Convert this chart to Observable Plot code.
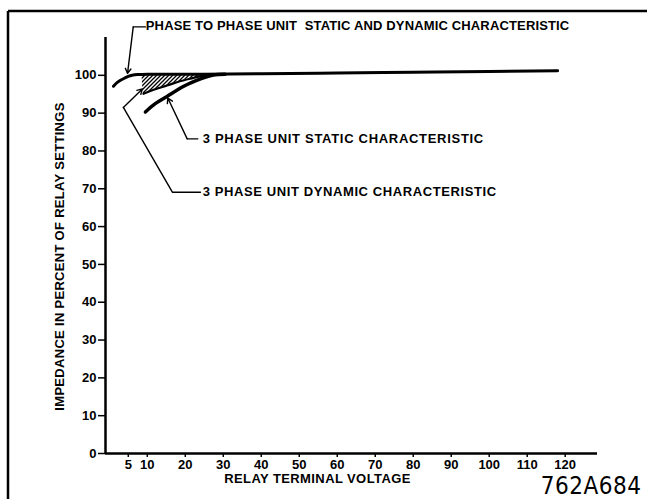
<!DOCTYPE html>
<html>
<head>
<meta charset="utf-8">
<script src="https://cdn.jsdelivr.net/npm/d3@7"></script>
<script src="https://cdn.jsdelivr.net/npm/@observablehq/plot@0.6"></script>
<style>
  html, body { margin: 0; padding: 0; background: #fff; }
  #chart { width: 647px; height: 499px; overflow: hidden; }
</style>
</head>
<body>
<div id="chart"></div>
<script>
// ---- data ----
const xTicks = [5, 10, 20, 30, 40, 50, 60, 70, 80, 90, 100, 110, 120];
const yTicks = [0, 10, 20, 30, 40, 50, 60, 70, 80, 90, 100];

// Phase to phase unit static and dynamic characteristic
const ptpVolt = [1.1, 2.2, 3.7, 5, 6, 7.5, 10, 15, 25, 40, 60, 80, 100, 118];
const ptpImp  = [97.1, 98.2, 99.1, 99.7, 100.0, 100.2, 100.3, 100.3, 100.3, 100.4, 100.6, 100.8, 101.0, 101.2];

// 3 phase unit static characteristic
const staticVolt = [9.5, 12.1, 15.2, 19.6, 24.2, 27.4, 30.5];
const staticImp  = [90.3, 92.5, 94.4, 97.1, 99.1, 100.1, 100.3];

// 3 phase unit dynamic characteristic (lower edge of hatched zone)
const dynVolt = [9.0, 12.1, 15.2, 18.2, 21.3, 24.0, 26.6];
const dynImp  = [95.1, 96.3, 97.3, 98.3, 99.1, 99.7, 100.1];

// hatched zone between dynamic curve and the 100 % line
const hatchVolt = [8.6, 9.0, 12.1, 15.2, 18.2, 21.3, 24.0, 26.6];
const hatchLow  = [100.2, 95.1, 96.3, 97.3, 98.3, 99.1, 99.7, 100.1];
const hatchHigh = [100.3, 100.3, 100.3, 100.3, 100.3, 100.3, 100.3, 100.3];

// labels and their leader lines (data coordinates)
const labelTexts = [
  "PHASE TO PHASE UNIT  STATIC AND DYNAMIC CHARACTERISTIC",
  "3 PHASE UNIT STATIC CHARACTERISTIC",
  "3 PHASE UNIT DYNAMIC CHARACTERISTIC"
];
const labelVolt = [9.6, 24.6, 24.6];
const labelImp  = [113.2, 83.2, 69.1];

const leader1Volt = [9.5, 6.3];   const leader1Imp = [112.8, 112.8];
const leader2Volt = [23.3, 20.5]; const leader2Imp = [83.2, 83.2];
const leader3Volt = [24.0, 16.6, 3.7]; const leader3Imp = [69.1, 69.1, 91.5];
const arrowX1 = [6.3, 20.5, 3.7];
const arrowY1 = [112.8, 83.2, 91.5];
const arrowX2 = [4.8, 15.4, 8.7];
const arrowY2 = [100.5, 94.0, 96.4];

const xTitle = "RELAY TERMINAL VOLTAGE";
const yTitle = "IMPEDANCE IN PERCENT OF RELAY SETTINGS";
const drawingNo = "762A684";

// ---- build tables ----
const zip = (xs, ys) => xs.map((x, i) => ({x, y: ys[i]}));
const ptp = zip(ptpVolt, ptpImp);
const stat = zip(staticVolt, staticImp);
const dyn = zip(dynVolt, dynImp);
const hatch = hatchVolt.map((x, i) => ({x, y1: hatchLow[i], y2: hatchHigh[i]}));
const labels = labelTexts.map((t, i) => ({t, x: labelVolt[i], y: labelImp[i]}));
const arrows = arrowX1.map((x1, i) => ({x1, y1: arrowY1[i], x2: arrowX2[i], y2: arrowY2[i]}));

const font = "'Liberation Sans', Arial, sans-serif";

const svg = Plot.plot({
  width: 647,
  height: 499,
  marginLeft: 105,
  marginRight: 50,
  marginTop: 37,
  marginBottom: 46,
  style: {fontFamily: font, fontSize: "12px", fontWeight: "bold", background: "#fff", color: "#000", overflow: "visible"},
  x: {domain: [-1, 128.5]},
  y: {domain: [0, 110]},
  marks: [
    Plot.axisX({ticks: xTicks, tickSize: 4, tickPadding: 2, fontSize: 13, strokeWidth: 1.5, label: null}),
    Plot.axisY({ticks: yTicks, tickSize: 7, tickPadding: 2, fontSize: 13, strokeWidth: 1.5, label: null}),
    Plot.ruleX([-1], {y1: 0, y2: 110, strokeWidth: 2.5}),
    Plot.ruleY([0], {x1: -1, x2: 128.5, strokeWidth: 2.5}),
    Plot.areaY(hatch, {x: "x", y1: "y1", y2: "y2", fill: "url(#hatch)", curve: "monotone-x"}),
    Plot.line(ptp, {x: "x", y: "y", strokeWidth: 3, curve: "natural"}),
    Plot.line(stat, {x: "x", y: "y", strokeWidth: 3.5, curve: "natural"}),
    Plot.line(dyn, {x: "x", y: "y", strokeWidth: 2.2, curve: "natural"}),
    Plot.line(zip(leader1Volt, leader1Imp), {x: "x", y: "y", strokeWidth: 1.4}),
    Plot.line(zip(leader2Volt, leader2Imp), {x: "x", y: "y", strokeWidth: 1.4}),
    Plot.line(zip(leader3Volt, leader3Imp), {x: "x", y: "y", strokeWidth: 1.4}),
    Plot.arrow(arrows, {x1: "x1", y1: "y1", x2: "x2", y2: "y2", strokeWidth: 1.4, headLength: 6}),
    Plot.text(labels, {x: "x", y: "y", text: "t", textAnchor: "start", fontSize: 13, fontWeight: "bold"}),
    Plot.text([xTitle], {frameAnchor: "bottom", dx: -34, dy: 29, text: d => d, fontSize: 13, fontWeight: "bold"}),
    Plot.text([yTitle], {frameAnchor: "left", textAnchor: "middle", dx: -46, dy: 11, rotate: -90,
                         text: d => d, fontSize: 13, fontWeight: "bold"}),
    Plot.text([drawingNo], {frameAnchor: "bottom-right", textAnchor: "end", dx: 44, dy: 33, lineAnchor: "middle",
                            text: d => d, fontSize: 24, fontWeight: "normal",
                            fontFamily: "'DejaVu Sans Condensed', 'DejaVu Sans', sans-serif"})
  ]
});

const s = d3.select(svg);

// letter spacing to match the hand-lettered widths
const spacing = new Map([
  [labelTexts[0], 0.15], [labelTexts[1], 0.7], [labelTexts[2], 0.6],
  [xTitle, 0.4], [yTitle, 0.3], [drawingNo, 0.5]
]);
s.selectAll("text").each(function() {
  const t = this.textContent;
  if (spacing.has(t)) this.setAttribute("letter-spacing", spacing.get(t));
});

// hatch pattern definition
const defs = s.insert("defs", ":first-child");
defs.append("pattern")
  .attr("id", "hatch").attr("patternUnits", "userSpaceOnUse")
  .attr("width", 4).attr("height", 4)
  .append("path")
  .attr("d", "M-1,1 l2,-2 M0,4 l4,-4 M3,5 l2,-2")
  .attr("stroke", "#000").attr("stroke-width", 1.3);

// outer drawing border (top and left edges of the sheet)
s.append("line").attr("x1", 8).attr("y1", 11).attr("x2", 647).attr("y2", 11)
  .attr("stroke", "#000").attr("stroke-width", 2.5);
s.append("line").attr("x1", 8).attr("y1", 11).attr("x2", 8).attr("y2", 499)
  .attr("stroke", "#000").attr("stroke-width", 2.5);

document.getElementById("chart").appendChild(svg);
</script>
</body>
</html>
